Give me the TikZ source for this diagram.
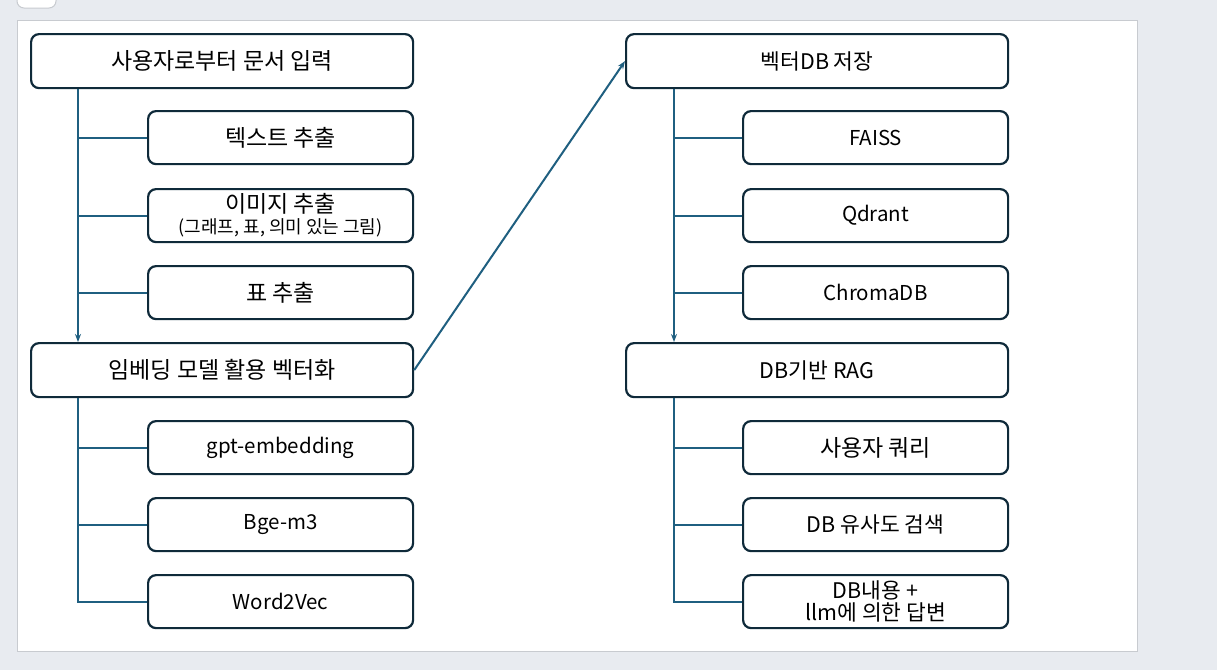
\documentclass[tikz,border=0pt]{standalone}
\usepackage{fontspec}
\setmainfont{Noto Sans CJK KR}
\usetikzlibrary{arrows.meta}
\definecolor{bgray}{HTML}{E8EBF0}
\definecolor{pborder}{HTML}{C8CBD0}
\definecolor{boxline}{HTML}{0F2A3A}
\definecolor{conn}{HTML}{1F5F80}
\newcommand{\kfs}{\fontsize{23}{26}\selectfont}
\newcommand{\mfs}{\fontsize{21.5}{24}\selectfont}
\newcommand{\lfs}{\fontsize{20.5}{23}\selectfont}
\tikzset{
  boxbase/.style={draw=boxline, line width=2.2pt, rounded corners=8pt, fill=white, anchor=north west, inner sep=0pt, align=center, font=\kfs},
  bigbox/.style={boxbase, minimum width=382pt, minimum height=54pt},
  subbox/.style={boxbase, minimum width=265pt, minimum height=53pt},
  conline/.style={draw=conn, line width=2pt},
  conarrow/.style={draw=conn, line width=2pt, -{Stealth[length=8pt,width=6pt]}}
}
\begin{document}
\begin{tikzpicture}[x=1pt,y=-1pt]
\useasboundingbox (0,0) rectangle (1217,670);
\fill[bgray] (0,0) rectangle (1217,670);
\draw[pborder, fill=white, line width=1pt, rounded corners=7pt] (17,-12) rectangle (56,8);
\draw[pborder, fill=white, line width=1pt] (17,20) rectangle (1137.5,651.5);

% left column
\node[bigbox] (a) at (30,33) {사용자로부터 문서 입력};
\node[subbox] (a1) at (147,110) {텍스트 추출};
\node[subbox] (a2) at (147,188) {이미지 추출\\[-5pt]{\fontsize{18}{20}\selectfont (그래프, 표, 의미 있는 그림)}};
\node[subbox] (a3) at (147,265) {표 추출};
\node[bigbox] (b) at (30,342) {임베딩 모델 활용 벡터화};
\node[subbox, font=\lfs] (b1) at (147,420) {gpt-embedding};
\node[subbox, font=\lfs] (b2) at (147,497) {Bge-m3};
\node[subbox, font=\lfs] (b3) at (147,574) {Word2Vec};

% right column
\node[bigbox, font=\mfs] (c) at (625,33) {벡터DB 저장};
\node[subbox, font=\lfs] (c1) at (742,110) {FAISS};
\node[subbox, font=\lfs] (c2) at (742,188) {Qdrant};
\node[subbox, font=\lfs] (c3) at (742,265) {ChromaDB};
\node[bigbox, font=\mfs] (d) at (625,342) {DB기반 RAG};
\node[subbox] (d1) at (742,420) {사용자 쿼리};
\node[subbox, font=\mfs] (d2) at (742,497) {DB 유사도 검색};
\node[subbox, font=\mfs] (d3) at (742,574) {DB내용 +\\[-2pt]llm에 의한 답변};

% left connectors
\coordinate (ax) at (78,0);
\draw[conarrow] (a.south west -| ax) -- (b.north west -| ax);
\draw[conline] (a1.west -| ax) -- (a1.west);
\draw[conline] (a2.west -| ax) -- (a2.west);
\draw[conline] (a3.west -| ax) -- (a3.west);
\draw[conline] (b.south west -| ax) -- (b3.west -| ax) -- (b3.west);
\draw[conline] (b1.west -| ax) -- (b1.west);
\draw[conline] (b2.west -| ax) -- (b2.west);

% right connectors
\coordinate (cx) at (674,0);
\draw[conarrow] (c.south west -| cx) -- (d.north west -| cx);
\draw[conline] (c1.west -| cx) -- (c1.west);
\draw[conline] (c2.west -| cx) -- (c2.west);
\draw[conline] (c3.west -| cx) -- (c3.west);
\draw[conline] (d.south west -| cx) -- (d3.west -| cx) -- (d3.west);
\draw[conline] (d1.west -| cx) -- (d1.west);
\draw[conline] (d2.west -| cx) -- (d2.west);

% cross arrow
\draw[conarrow] (b.east) -- (c.west);
\end{tikzpicture}
\end{document}
